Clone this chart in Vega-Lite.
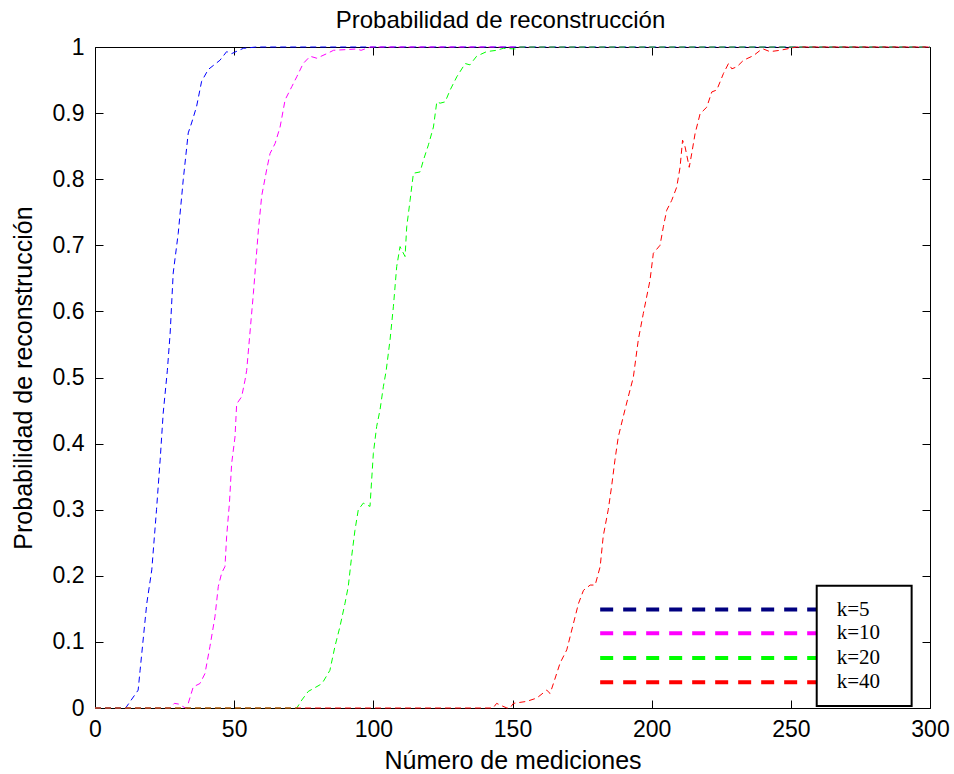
{
  "$schema": "https://vega.github.io/schema/vega-lite/v6.json",
  "width": 835,
  "height": 661,
  "autosize": {"type": "none"},
  "padding": {"left": 95, "top": 47, "right": 24, "bottom": 66},
  "background": "white",
  "config": {
    "view": {"stroke": "black", "strokeWidth": 1},
    "axis": {
      "labelFont": "Liberation Sans",
      "labelFontSize": 23,
      "labelColor": "black",
      "labelFlush": false,
      "titleFont": "Liberation Sans",
      "titleFontSize": 25,
      "titleFontWeight": "normal",
      "titleColor": "black",
      "domainColor": "black",
      "tickColor": "black",
      "tickSize": -8,
      "grid": false
    }
  },
  "title": {
    "text": "Probabilidad de reconstrucción",
    "font": "Liberation Sans",
    "fontSize": 24,
    "fontWeight": "normal",
    "color": "black",
    "baseline": "alphabetic",
    "offset": -16,
    "dx": -12
  },
  "datasets": {
    "curves": [
      {"k": "k=5", "n": 0, "p": 0}, {"k": "k=5", "n": 11, "p": 0}, {"k": "k=5", "n": 13, "p": 0.012}, {"k": "k=5", "n": 15.5, "p": 0.027},
      {"k": "k=5", "n": 16.2, "p": 0.057}, {"k": "k=5", "n": 18.6, "p": 0.158}, {"k": "k=5", "n": 20.4, "p": 0.209}, {"k": "k=5", "n": 22.1, "p": 0.3},
      {"k": "k=5", "n": 23.4, "p": 0.375}, {"k": "k=5", "n": 24.5, "p": 0.446}, {"k": "k=5", "n": 26, "p": 0.511}, {"k": "k=5", "n": 27, "p": 0.567},
      {"k": "k=5", "n": 28.1, "p": 0.658}, {"k": "k=5", "n": 29.9, "p": 0.718}, {"k": "k=5", "n": 31.7, "p": 0.799}, {"k": "k=5", "n": 33.5, "p": 0.87},
      {"k": "k=5", "n": 34.7, "p": 0.885}, {"k": "k=5", "n": 36.5, "p": 0.91}, {"k": "k=5", "n": 38.3, "p": 0.948}, {"k": "k=5", "n": 40.7, "p": 0.966},
      {"k": "k=5", "n": 44.9, "p": 0.98}, {"k": "k=5", "n": 47.3, "p": 0.993}, {"k": "k=5", "n": 49.1, "p": 0.99}, {"k": "k=5", "n": 53.3, "p": 0.998},
      {"k": "k=5", "n": 58, "p": 1}, {"k": "k=5", "n": 300, "p": 1},

      {"k": "k=10", "n": 0, "p": 0}, {"k": "k=10", "n": 27, "p": 0}, {"k": "k=10", "n": 28.5, "p": 0.007}, {"k": "k=10", "n": 30, "p": 0.006},
      {"k": "k=10", "n": 32.5, "p": 0}, {"k": "k=10", "n": 33, "p": 0}, {"k": "k=10", "n": 35.3, "p": 0.032}, {"k": "k=10", "n": 37.7, "p": 0.037},
      {"k": "k=10", "n": 39.5, "p": 0.052}, {"k": "k=10", "n": 41.3, "p": 0.093}, {"k": "k=10", "n": 43.1, "p": 0.138}, {"k": "k=10", "n": 44.3, "p": 0.184},
      {"k": "k=10", "n": 45.5, "p": 0.204}, {"k": "k=10", "n": 46.7, "p": 0.214}, {"k": "k=10", "n": 47.3, "p": 0.26}, {"k": "k=10", "n": 48.3, "p": 0.31},
      {"k": "k=10", "n": 49.1, "p": 0.37}, {"k": "k=10", "n": 50.3, "p": 0.41}, {"k": "k=10", "n": 50.9, "p": 0.46}, {"k": "k=10", "n": 52.7, "p": 0.471},
      {"k": "k=10", "n": 53.9, "p": 0.496}, {"k": "k=10", "n": 54.5, "p": 0.511}, {"k": "k=10", "n": 56.9, "p": 0.627}, {"k": "k=10", "n": 58.7, "p": 0.723},
      {"k": "k=10", "n": 59.9, "p": 0.775}, {"k": "k=10", "n": 61.7, "p": 0.815}, {"k": "k=10", "n": 62.9, "p": 0.839}, {"k": "k=10", "n": 64.7, "p": 0.854},
      {"k": "k=10", "n": 66.5, "p": 0.879}, {"k": "k=10", "n": 68.3, "p": 0.92}, {"k": "k=10", "n": 70.7, "p": 0.94}, {"k": "k=10", "n": 72.5, "p": 0.955},
      {"k": "k=10", "n": 74.8, "p": 0.975}, {"k": "k=10", "n": 77.3, "p": 0.986}, {"k": "k=10", "n": 79.7, "p": 0.983}, {"k": "k=10", "n": 83.3, "p": 0.99},
      {"k": "k=10", "n": 85.7, "p": 0.995}, {"k": "k=10", "n": 94, "p": 0.997}, {"k": "k=10", "n": 95.6, "p": 0.995}, {"k": "k=10", "n": 99, "p": 1},
      {"k": "k=10", "n": 300, "p": 1},

      {"k": "k=20", "n": 0, "p": 0}, {"k": "k=20", "n": 72.5, "p": 0}, {"k": "k=20", "n": 74.3, "p": 0.012}, {"k": "k=20", "n": 76.6, "p": 0.025},
      {"k": "k=20", "n": 80.8, "p": 0.035}, {"k": "k=20", "n": 82, "p": 0.04}, {"k": "k=20", "n": 84.4, "p": 0.057}, {"k": "k=20", "n": 86.2, "p": 0.093},
      {"k": "k=20", "n": 88, "p": 0.123}, {"k": "k=20", "n": 89.8, "p": 0.158}, {"k": "k=20", "n": 91, "p": 0.184}, {"k": "k=20", "n": 92.2, "p": 0.229},
      {"k": "k=20", "n": 93.4, "p": 0.269}, {"k": "k=20", "n": 94.6, "p": 0.3}, {"k": "k=20", "n": 96.4, "p": 0.31}, {"k": "k=20", "n": 98.8, "p": 0.305},
      {"k": "k=20", "n": 99.4, "p": 0.345}, {"k": "k=20", "n": 100, "p": 0.385}, {"k": "k=20", "n": 101.2, "p": 0.426}, {"k": "k=20", "n": 102.4, "p": 0.451},
      {"k": "k=20", "n": 103.6, "p": 0.486}, {"k": "k=20", "n": 104.6, "p": 0.51}, {"k": "k=20", "n": 106, "p": 0.557}, {"k": "k=20", "n": 107.2, "p": 0.607},
      {"k": "k=20", "n": 108.4, "p": 0.668}, {"k": "k=20", "n": 109.6, "p": 0.698}, {"k": "k=20", "n": 111.4, "p": 0.683}, {"k": "k=20", "n": 112, "p": 0.728},
      {"k": "k=20", "n": 113.2, "p": 0.768}, {"k": "k=20", "n": 114.4, "p": 0.809}, {"k": "k=20", "n": 116.8, "p": 0.811}, {"k": "k=20", "n": 118, "p": 0.829},
      {"k": "k=20", "n": 119.8, "p": 0.852}, {"k": "k=20", "n": 121.6, "p": 0.879}, {"k": "k=20", "n": 122.8, "p": 0.917}, {"k": "k=20", "n": 124, "p": 0.915},
      {"k": "k=20", "n": 125.8, "p": 0.917}, {"k": "k=20", "n": 127.6, "p": 0.935}, {"k": "k=20", "n": 130, "p": 0.955}, {"k": "k=20", "n": 133, "p": 0.975},
      {"k": "k=20", "n": 134.7, "p": 0.973}, {"k": "k=20", "n": 137.1, "p": 0.986}, {"k": "k=20", "n": 140.7, "p": 0.993}, {"k": "k=20", "n": 144.3, "p": 0.995},
      {"k": "k=20", "n": 146.7, "p": 0.998}, {"k": "k=20", "n": 151, "p": 0.997}, {"k": "k=20", "n": 152.5, "p": 1}, {"k": "k=20", "n": 300, "p": 1},

      {"k": "k=40", "n": 0, "p": 0}, {"k": "k=40", "n": 143, "p": 0}, {"k": "k=40", "n": 144.3, "p": 0.007}, {"k": "k=40", "n": 145.8, "p": 0.004},
      {"k": "k=40", "n": 148, "p": 0}, {"k": "k=40", "n": 149.1, "p": 0}, {"k": "k=40", "n": 150.3, "p": 0.007}, {"k": "k=40", "n": 155.1, "p": 0.01},
      {"k": "k=40", "n": 158.7, "p": 0.015}, {"k": "k=40", "n": 162.3, "p": 0.027}, {"k": "k=40", "n": 163.5, "p": 0.022}, {"k": "k=40", "n": 164.7, "p": 0.037},
      {"k": "k=40", "n": 167.1, "p": 0.068}, {"k": "k=40", "n": 169.5, "p": 0.088}, {"k": "k=40", "n": 171.9, "p": 0.128}, {"k": "k=40", "n": 173.7, "p": 0.158},
      {"k": "k=40", "n": 175.5, "p": 0.178}, {"k": "k=40", "n": 177.9, "p": 0.186}, {"k": "k=40", "n": 179.7, "p": 0.186}, {"k": "k=40", "n": 181.5, "p": 0.214},
      {"k": "k=40", "n": 182.6, "p": 0.26}, {"k": "k=40", "n": 184.4, "p": 0.3}, {"k": "k=40", "n": 185.6, "p": 0.335}, {"k": "k=40", "n": 186.8, "p": 0.375},
      {"k": "k=40", "n": 188, "p": 0.41}, {"k": "k=40", "n": 189.8, "p": 0.441}, {"k": "k=40", "n": 191.6, "p": 0.471}, {"k": "k=40", "n": 193.4, "p": 0.5},
      {"k": "k=40", "n": 195.2, "p": 0.557}, {"k": "k=40", "n": 197, "p": 0.597}, {"k": "k=40", "n": 199.4, "p": 0.647}, {"k": "k=40", "n": 200.6, "p": 0.688},
      {"k": "k=40", "n": 203, "p": 0.7}, {"k": "k=40", "n": 204.2, "p": 0.728}, {"k": "k=40", "n": 205.4, "p": 0.753}, {"k": "k=40", "n": 207.2, "p": 0.768},
      {"k": "k=40", "n": 209, "p": 0.788}, {"k": "k=40", "n": 210.2, "p": 0.818}, {"k": "k=40", "n": 211.1, "p": 0.859}, {"k": "k=40", "n": 212, "p": 0.849},
      {"k": "k=40", "n": 213.5, "p": 0.818}, {"k": "k=40", "n": 214.4, "p": 0.839}, {"k": "k=40", "n": 215.6, "p": 0.869}, {"k": "k=40", "n": 217.4, "p": 0.899},
      {"k": "k=40", "n": 219.8, "p": 0.909}, {"k": "k=40", "n": 221.6, "p": 0.932}, {"k": "k=40", "n": 223.4, "p": 0.935}, {"k": "k=40", "n": 225.8, "p": 0.96},
      {"k": "k=40", "n": 227.6, "p": 0.975}, {"k": "k=40", "n": 228.8, "p": 0.967}, {"k": "k=40", "n": 230.6, "p": 0.97}, {"k": "k=40", "n": 233, "p": 0.98},
      {"k": "k=40", "n": 236.6, "p": 0.987}, {"k": "k=40", "n": 239, "p": 0.995}, {"k": "k=40", "n": 240.1, "p": 0.997}, {"k": "k=40", "n": 242.5, "p": 0.993},
      {"k": "k=40", "n": 246.1, "p": 0.995}, {"k": "k=40", "n": 249.7, "p": 0.998}, {"k": "k=40", "n": 252, "p": 1}, {"k": "k=40", "n": 300, "p": 1}
    ],
    "legend": [
      {"k": "k=5", "x": 181.5, "x2": 259.3, "y": 0.149, "xb1": 259.3, "xb2": 293.4, "yb1": 0.003, "yb2": 0.185, "xt": 266.5},
      {"k": "k=10", "x": 181.5, "x2": 259.3, "y": 0.113, "xt": 266.5},
      {"k": "k=20", "x": 181.5, "x2": 259.3, "y": 0.0755, "xt": 266.5},
      {"k": "k=40", "x": 181.5, "x2": 259.3, "y": 0.039, "xt": 266.5}
    ]
  },
  "layer": [
    {
      "data": {"name": "curves"},
      "mark": {"type": "line", "strokeWidth": 1, "strokeDash": [6, 4]},
      "encoding": {
        "x": {
          "field": "n", "type": "quantitative",
          "scale": {"domain": [0, 300], "nice": false},
          "axis": {"orient": "bottom", "values": [0, 50, 100, 150, 200, 250, 300], "title": "Número de mediciones", "labelPadding": 18, "titlePadding": 7, "domain": false}
        },
        "y": {
          "field": "p", "type": "quantitative",
          "scale": {"domain": [0, 1], "nice": false},
          "axis": {"orient": "left", "values": [0, 0.1, 0.2, 0.3, 0.4, 0.5, 0.6, 0.7, 0.8, 0.9, 1], "format": "~g", "title": "Probabilidad de reconstrucción", "labelPadding": 19, "titlePadding": 16, "domain": false}
        },
        "color": {
          "field": "k", "type": "nominal",
          "scale": {"domain": ["k=5", "k=10", "k=20", "k=40"], "range": ["#0000ff", "#ff00ff", "#00ff00", "#ff0000"]},
          "legend": null
        },
        "order": {"field": "n", "type": "quantitative"}
      }
    },
    {
      "data": {"name": "legend"},
      "mark": {"type": "rule", "strokeWidth": 4, "strokeDash": [13, 10]},
      "encoding": {
        "x": {"field": "x", "type": "quantitative", "axis": {"orient": "top", "values": [0, 50, 100, 150, 200, 250, 300], "labels": false, "title": null, "domain": false}},
        "x2": {"field": "x2"},
        "y": {"field": "y", "type": "quantitative", "axis": {"orient": "right", "values": [0, 0.1, 0.2, 0.3, 0.4, 0.5, 0.6, 0.7, 0.8, 0.9, 1], "labels": false, "title": null, "domain": false}},
        "color": {
          "field": "k", "type": "nominal",
          "scale": {"domain": ["k=5", "k=10", "k=20", "k=40"], "range": ["#000080", "#ff00ff", "#00ff00", "#ff0000"]},
          "legend": null
        }
      }
    },
    {
      "data": {"name": "legend"},
      "transform": [{"filter": "datum.xb1 != null"}],
      "mark": {"type": "rect", "fill": "white", "stroke": "black", "strokeWidth": 2},
      "encoding": {
        "x": {"field": "xb1", "type": "quantitative", "axis": null},
        "x2": {"field": "xb2"},
        "y": {"field": "yb1", "type": "quantitative", "axis": null},
        "y2": {"field": "yb2"}
      }
    },
    {
      "data": {"name": "legend"},
      "mark": {"type": "text", "font": "Liberation Serif", "fontSize": 21, "align": "left", "baseline": "middle", "color": "black"},
      "encoding": {
        "x": {"field": "xt", "type": "quantitative", "axis": null},
        "y": {"field": "y", "type": "quantitative", "axis": null},
        "text": {"field": "k"}
      }
    }
  ],
  "resolve": {"scale": {"color": "independent"}, "axis": {"x": "independent", "y": "independent"}}
}
